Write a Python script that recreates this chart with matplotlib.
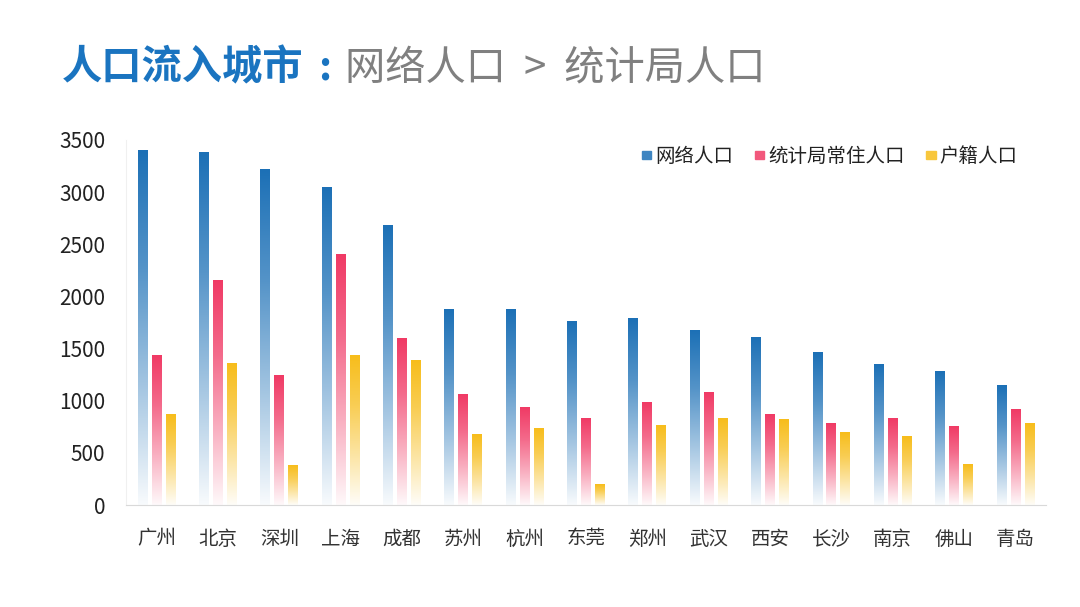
import numpy as np
import matplotlib
matplotlib.use('Agg')
import matplotlib.pyplot as plt
from matplotlib.colors import LinearSegmentedColormap, to_rgb
from matplotlib.patches import Rectangle

plt.rcParams['font.family'] = ['Noto Sans CJK SC', 'DejaVu Sans']

# 数据 (单位: 万人)
cities = ['广州', '北京', '深圳', '上海', '成都', '苏州', '杭州', '东莞',
          '郑州', '武汉', '西安', '长沙', '南京', '佛山', '青岛']
net_pop = [3397, 3378, 3218, 3042, 2675, 1879, 1879, 1764,
           1790, 1671, 1608, 1460, 1349, 1278, 1150]
stat_pop = [1438, 2157, 1240, 2403, 1592, 1061, 937, 831,
            981, 1080, 872, 783, 831, 757, 917]
hukou_pop = [863, 1352, 377, 1438, 1390, 678, 729, 192,
             767, 831, 822, 693, 655, 393, 783]
series_names = ['网络人口', '统计局常住人口', '户籍人口']
yticks = [0, 500, 1000, 1500, 2000, 2500, 3000, 3500]

colors = ['#1c70b6', '#f03a65', '#f7bd1b']


def mix(c, t):
    # 与白色混合, t=1 为纯白
    r = np.array(to_rgb(c))
    return tuple(r + (1 - r) * t)


def grad_bar(ax, x, h, w, c):
    cmap = LinearSegmentedColormap.from_list(
        'g', [mix(c, 0.97), mix(c, 0.6), mix(c, 0.25), c])
    grad = np.linspace(0, 1, 256).reshape(-1, 1)
    ax.imshow(grad, extent=[x - w / 2, x + w / 2, 0, h], origin='lower',
              aspect='auto', cmap=cmap, zorder=2, interpolation='bilinear')


fig = plt.figure(figsize=(10.8, 6.07), dpi=100)
ax = fig.add_axes([0.1167, 0.168, 0.852, 0.6014])

x = np.arange(len(cities))
w = 0.163
step = 0.228
for k, vals in enumerate([net_pop, stat_pop, hukou_pop]):
    for i, v in enumerate(vals):
        grad_bar(ax, x[i] + (k - 1) * step, v, w, colors[k])

ax.set_xlim(-0.5, len(cities) - 0.5)
ax.set_ylim(0, 3500)
ax.set_yticks(yticks)
ax.set_yticklabels([str(t) for t in yticks], fontsize=15, color='#222222')
ax.set_xticks(x)
ax.set_xticklabels(cities, fontsize=14, color='#333333')
ax.tick_params(axis='both', length=0)
ax.tick_params(axis='y', pad=15)
ax.tick_params(axis='x', pad=17)
for s in ['top', 'right']:
    ax.spines[s].set_visible(False)
ax.spines['left'].set_color('#f0f0f0')
ax.spines['bottom'].set_color('#d9d9d9')

# 图例
handles = [Rectangle((0, 0), 1, 1, color=mix(c, 0.15)) for c in colors]
ax.legend(handles, series_names, loc='center right', bbox_to_anchor=(0.988, 0.955),
          ncol=3, frameon=False, fontsize=14, handlelength=0.5, handleheight=0.3,
          handletextpad=0.2, columnspacing=1.1, labelcolor='#222222')

# 标题
ty = 1 - 68 / 607
fig.text(62 / 1080, ty, '人口流入城市', fontsize=29, fontweight='bold',
         color='#1a74c0', va='center', ha='left')
fig.text(325 / 1080, ty, ':', fontsize=29, fontweight='bold',
         color='#1a74c0', va='center', ha='center')
fig.text(345 / 1080, ty, '网络人口  >  统计局人口', fontsize=29,
         color='#808080', va='center', ha='left')

fig.savefig('out.png', dpi=100, facecolor='white')
